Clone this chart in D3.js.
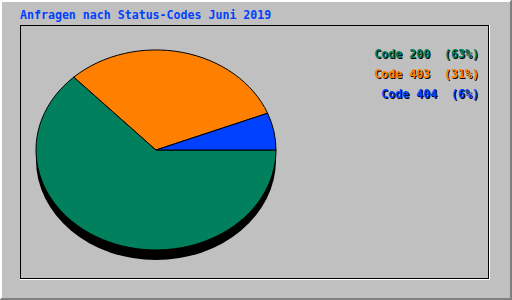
<!DOCTYPE html>
<html><head><meta charset="utf-8">
<script src="https://cdn.jsdelivr.net/npm/d3@7"></script>
<style>html,body{margin:0;padding:0;background:#c0c0c0;}svg{display:block;}text{white-space:pre;}</style>
</head><body>
<script>
const title = "Anfragen nach Status-Codes Juni 2019";
const categories = ["Code 200", "Code 403", "Code 404"];
const values = [63, 31, 6];
const colors = ["#00805c", "#ff8000", "#0040ff"];

const W = 512, H = 300;
const svg = d3.select("body").append("svg").attr("width", W).attr("height", H)
  .attr("font-family", "'DejaVu Sans Mono', monospace").attr("font-weight", "bold").attr("font-size", "11.6px");
svg.append("rect").attr("width", W).attr("height", H).attr("fill", "#c0c0c0");
const g0 = svg.append("g").attr("shape-rendering", "crispEdges");
// outer bevel
g0.append("path").attr("d", `M0.5,${H}V0.5H${W} M1.5,${H-1}V1.5H${W-1}`).attr("stroke", "#ffffff").attr("fill", "none");
g0.append("path").attr("d", `M${W-0.5},0V${H-0.5}H0 M${W-1.5},1V${H-1.5}H1`).attr("stroke", "#808080").attr("fill", "none");
// inner frame
g0.append("path").attr("d", "M20.5,279V25.5H489").attr("stroke", "#000").attr("fill", "none");
g0.append("path").attr("d", "M488.5,25V278.5H20").attr("stroke", "#000").attr("fill", "none");
g0.append("path").attr("d", "M489.5,25V279.5H20").attr("stroke", "#fff").attr("fill", "none");

// title
svg.append("text").attr("x", 20).attr("y", 18.5).attr("fill", "#0040ff").text(title);

// pie
const cx = 156, cy = 150, rx = 120, ry = 100;
svg.append("ellipse").attr("cx", cx).attr("cy", cy + 10).attr("rx", rx).attr("ry", ry).attr("fill", "#000");
const pie = d3.pie().sort(null).startAngle(Math.PI / 2).endAngle(Math.PI / 2 + 2 * Math.PI);
const arcs = pie(values);
const arc = d3.arc().innerRadius(0).outerRadius(1);
const pg = svg.append("g").attr("transform", `translate(${cx},${cy}) scale(${rx},${ry})`);
pg.selectAll("path").data(arcs).join("path")
  .attr("d", arc).attr("fill", (d, i) => colors[i])
  .attr("stroke", "#000").attr("stroke-width", 1).attr("vector-effect", "non-scaling-stroke");

// legend
const lg = svg.append("g");
categories.forEach((c, i) => {
  const t = `${c}  (${values[i]}%)`;
  const y = 58 + i * 20;
  lg.append("text").attr("x", 480).attr("y", y + 1).attr("text-anchor", "end").attr("fill", "#000").text(t);
  lg.append("text").attr("x", 479).attr("y", y).attr("text-anchor", "end").attr("fill", colors[i]).text(t);
});
</script>
</body></html>
